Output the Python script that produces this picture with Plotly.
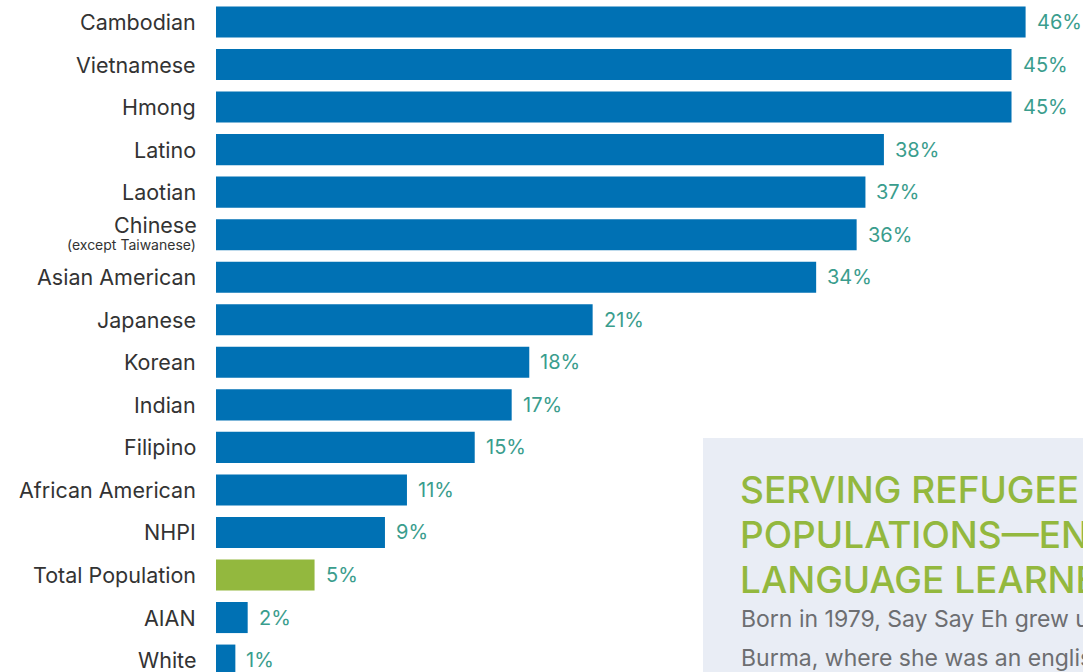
import plotly.graph_objects as go

categories = ["Cambodian", "Vietnamese", "Hmong", "Latino", "Laotian",
              "Chinese", "Asian American", "Japanese", "Korean", "Indian",
              "Filipino", "African American", "NHPI", "Total Population",
              "AIAN", "White"]
category_notes = ["", "", "", "", "", "(except Taiwanese)", "", "", "", "",
                  "", "", "", "", "", ""]
values = [46.0, 45.2, 45.2, 37.95, 36.9, 36.4, 34.1, 21.4, 17.8, 16.8, 14.7,
          10.85, 9.6, 5.6, 1.8, 1.1]
value_labels = ["46%", "45%", "45%", "38%", "37%", "36%", "34%", "21%", "18%",
                "17%", "15%", "11%", "9%", "5%", "2%", "1%"]
highlight = "Total Population"

sidebar_title = ["SERVING REFUGEE", "POPULATIONS—ENGLISH", "LANGUAGE LEARNERS"]
sidebar_body = ["Born in 1979, Say Say Eh grew up in",
                "Burma, where she was an english teacher"]

BLUE = "#0071b4"
GREEN = "#93b83e"
TEAL = "#3a9d8d"
FONT = "Inter"

W, H = 1083, 672
L = 216

colors = [GREEN if c == highlight else BLUE for c in categories]

fig = go.Figure(go.Bar(
    y=categories, x=values, orientation="h",
    marker=dict(color=colors, line=dict(width=0)),
    width=0.73, hoverinfo="skip",
))

# value labels
for c, v, t in zip(categories, values, value_labels):
    fig.add_annotation(x=v, y=c, text=t, showarrow=False, xanchor="left",
                       xshift=9, font=dict(family=FONT, size=20, color=TEAL))

# category labels (drawn as annotations so the sub-note can be smaller)
for c, n in zip(categories, category_notes):
    if n:
        fig.add_annotation(xref="paper", x=0, y=c, text=c, showarrow=False,
                           xanchor="right", xshift=-18, yshift=10,
                           borderpad=0,
                           font=dict(family=FONT, size=21.5, color="#333333"))
        fig.add_annotation(xref="paper", x=0, y=c, text=n, showarrow=False,
                           xanchor="right", xshift=-19, yshift=-10,
                           borderpad=0,
                           font=dict(family=FONT, size=14, color="#333333"))
    else:
        fig.add_annotation(xref="paper", x=0, y=c, text=c, showarrow=False,
                           xanchor="right", xshift=-18,
                           font=dict(family=FONT, size=21.5, color="#333333"))

# sidebar box (partially visible)
def px_x(p):
    return (p - L) / (W - L)

def px_y(p):
    return 1 - p / H

fig.add_shape(type="rect", xref="paper", yref="paper",
              x0=px_x(703), x1=px_x(1090), y0=px_y(438), y1=px_y(680),
              fillcolor="#e9edf5", line=dict(width=0), layer="above")
for i, line in enumerate(sidebar_title):
    fig.add_annotation(xref="paper", yref="paper", x=px_x(738),
                       y=px_y(489 + 45 * i), xanchor="left", yanchor="middle",
                       align="left", showarrow=False, text=line,
                       font=dict(family=FONT, size=37, weight=500, color=GREEN))
for i, line in enumerate(sidebar_body):
    fig.add_annotation(xref="paper", yref="paper", x=px_x(739),
                       y=px_y(619 + 39 * i), xanchor="left", yanchor="middle",
                       align="left", showarrow=False, text=line,
                       font=dict(family=FONT, size=23, color="#6d6e71"))

fig.update_layout(
    width=W, height=H,
    margin=dict(l=L, r=0, t=0, b=0, pad=0),
    paper_bgcolor="white", plot_bgcolor="white",
    showlegend=False,
    font=dict(family=FONT, size=20, color="#333333"),
)
fig.update_xaxes(range=[0, (W - L) / 17.6], visible=False, fixedrange=True)
fig.update_yaxes(range=[15.28, -0.517], showgrid=False, zeroline=False,
                 showline=False, ticks="", showticklabels=False,
                 fixedrange=True)

fig.write_html("out.html", config={"displayModeBar": False},
               post_script="document.body.style.margin='0';")
